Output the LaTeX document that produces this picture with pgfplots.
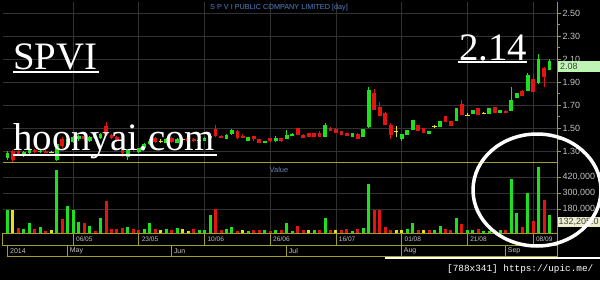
\documentclass[border=0pt]{standalone}
\usepackage{pgfplots}
\pgfplotsset{compat=1.18}
\usepackage{pgfplotstable}
\usepackage{fontspec}
\setmainfont{Liberation Sans}
\newfontfamily\serifw{Liberation Serif}
\newfontfamily\monow{Liberation Mono}

\definecolor{cg}{RGB}{30,225,30}
\definecolor{cr}{RGB}{228,20,20}
\definecolor{cy}{RGB}{225,225,20}
\definecolor{olv}{RGB}{160,160,40}
\definecolor{gridc}{RGB}{50,50,50}
\definecolor{tickc}{RGB}{195,195,195}
\definecolor{titc}{RGB}{80,130,200}
\definecolor{valc}{RGB}{110,130,170}
\definecolor{tagg}{RGB}{190,245,180}
\definecolor{tagy}{RGB}{238,238,205}

% candles: i open high low close
\pgfplotstableread{
i o h l c
0 1.24 1.30 1.22 1.28
3 1.26 1.30 1.25 1.29
4 1.28 1.32 1.27 1.31
6 1.29 1.31 1.28 1.30
9 1.22 1.38 1.21 1.36
11 1.35 1.42 1.34 1.40
12 1.38 1.43 1.37 1.42
13 1.40 1.44 1.39 1.43
15 1.39 1.43 1.38 1.42
17 1.41 1.46 1.40 1.45
22 1.25 1.32 1.22 1.31
24 1.29 1.33 1.28 1.33
25 1.33 1.37 1.32 1.36
26 1.36 1.40 1.35 1.39
29 1.37 1.41 1.37 1.40
31 1.37 1.41 1.37 1.40
36 1.39 1.42 1.39 1.41
37 1.41 1.44 1.40 1.43
40 1.40 1.45 1.40 1.44
41 1.45 1.49 1.44 1.48
44 1.39 1.42 1.39 1.42
47 1.37 1.39 1.37 1.39
49 1.39 1.43 1.38 1.41
51 1.40 1.48 1.40 1.44
52 1.43 1.46 1.43 1.45
58 1.42 1.54 1.42 1.53
63 1.42 1.46 1.42 1.46
65 1.42 1.49 1.42 1.49
66 1.51 1.86 1.50 1.83
72 1.40 1.45 1.39 1.45
73 1.44 1.48 1.44 1.48
74 1.48 1.57 1.48 1.57
77 1.45 1.47 1.45 1.47
79 1.51 1.56 1.51 1.56
82 1.56 1.67 1.56 1.67
85 1.62 1.66 1.62 1.66
88 1.62 1.67 1.62 1.67
90 1.63 1.66 1.63 1.66
92 1.65 1.86 1.65 1.74
93 1.76 1.80 1.76 1.80
95 1.82 1.98 1.82 1.96
97 1.89 2.14 1.88 2.10
99 2.00 2.10 2.00 2.08
}\gcand

\pgfplotstableread{
i o h l c
1 1.30 1.31 1.20 1.22
2 1.30 1.32 1.26 1.27
5 1.31 1.32 1.28 1.29
7 1.30 1.31 1.28 1.28
10 1.40 1.42 1.33 1.34
14 1.43 1.44 1.39 1.40
16 1.43 1.44 1.40 1.41
18 1.52 1.55 1.43 1.44
19 1.44 1.45 1.40 1.41
20 1.42 1.43 1.38 1.39
21 1.34 1.35 1.25 1.28
23 1.33 1.34 1.30 1.31
27 1.41 1.42 1.37 1.38
30 1.41 1.42 1.37 1.38
33 1.41 1.42 1.38 1.39
34 1.40 1.41 1.38 1.39
38 1.49 1.53 1.42 1.43
39 1.43 1.44 1.41 1.41
42 1.47 1.48 1.40 1.41
43 1.43 1.45 1.41 1.415
45 1.43 1.43 1.39 1.40
46 1.40 1.40 1.37 1.37
48 1.41 1.41 1.38 1.39
50 1.41 1.41 1.38 1.39
53 1.50 1.50 1.44 1.44
54 1.44 1.45 1.41 1.41
55 1.46 1.46 1.42 1.42
56 1.46 1.46 1.42 1.42
57 1.46 1.47 1.42 1.42
59 1.50 1.51 1.47 1.47
60 1.49 1.50 1.46 1.46
61 1.47 1.47 1.44 1.44
62 1.46 1.46 1.43 1.43
64 1.45 1.46 1.40 1.40
67 1.80 1.84 1.66 1.66
68 1.68 1.73 1.60 1.60
69 1.63 1.64 1.53 1.53
70 1.53 1.54 1.40 1.44
75 1.53 1.53 1.47 1.47
76 1.50 1.50 1.46 1.46
80 1.60 1.60 1.55 1.55
81 1.56 1.56 1.52 1.52
83 1.71 1.74 1.61 1.61
86 1.67 1.67 1.61 1.61
89 1.68 1.68 1.63 1.63
91 1.65 1.66 1.63 1.63
94 1.82 1.83 1.78 1.78
96 1.93 1.97 1.81 1.81
98 2.02 2.03 1.86 1.94
}\rcand

\pgfplotstableread{
i o h l c
8 1.29 1.30 1.28 1.29
28 1.38 1.40 1.37 1.38
32 1.40 1.41 1.39 1.40
35 1.39 1.41 1.38 1.39
71 1.47 1.52 1.42 1.47
78 1.51 1.53 1.50 1.51
84 1.61 1.63 1.60 1.61
87 1.63 1.64 1.62 1.63
}\ycand

% volume (thousands)
\pgfplotstableread{
i v
0 172.5
3 27.5
4 72.5
6 47.5
9 472.5
11 202.5
12 172.5
13 85
15 55
17 110
22 47.5
25 32.5
26 72.5
29 32.5
31 37.5
35 22.5
36 22.5
37 137.5
40 30
41 47.5
44 17.5
47 22.5
49 22.5
51 72.5
52 17.5
56 22.5
58 110
63 17.5
65 37.5
66 367.5
73 27.5
74 72.5
78 22.5
79 52.5
82 110
84 22.5
85 22.5
87 12.5
88 17.5
90 22.5
92 402.5
93 147.5
95 302.5
97 492.5
99 132.2
}\vgreen

\pgfplotstableread{
i v
2 35
5 27.5
7 17.5
10 105
14 72.5
16 17.5
18 240
19 30
20 30
21 35
23 30
24 22.5
27 32.5
30 22.5
34 27.5
38 177.5
39 22.5
42 17.5
45 22.5
46 22.5
48 17.5
50 22.5
53 52.5
54 22.5
57 22.5
59 22.5
61 22.5
62 27.5
64 27.5
67 172.5
68 172.5
69 47.5
70 22.5
75 22.5
77 22.5
80 32.5
81 22.5
83 67.5
86 27.5
89 22.5
91 22.5
94 42.5
96 90
98 247.5
}\vred

\pgfplotstableread{
i v
1 172.5
8 22.5
28 22.5
32 30
33 17.5
43 22.5
55 22.5
60 22.5
71 22.5
72 22.5
76 22.5
}\vyellow

\pgfplotsset{
  chartbase/.style={
    scale only axis,
    width=554.3bp,
    xmin=-0.877, xmax=100.37,
    axis line style={draw=none},
    xtick={12,24,36,48,60,72,84,96},
    xticklabels={},
    xtick style={draw=none},
    grid=major,
    major grid style={draw=gridc, line width=0.8bp},
    ytick pos=right,
    yticklabel pos=right,
    tick align=outside,
    ytick style={draw=olv, line width=0.8bp},
    major tick length=4bp,
    minor tick length=2.5bp,
    /pgf/number format/assume math mode=true,
    yticklabel style={font=\fontsize{9}{10}\selectfont, text=tickc, inner sep=1.5bp},
  },
  wick/.style={draw=none, forget plot, error bars/.cd, y dir=plus, y explicit, error mark=none,
    error bar style={draw=#1, line width=1bp}},
  body/.style={draw=none, forget plot, error bars/.cd, y dir=plus, y explicit, error mark=none,
    error bar style={draw=#1, line width=3.8bp}},
}

\begin{document}
\begin{tikzpicture}[x=1bp,y=1bp]
\path[use as bounding box] (0,0) rectangle (600,280);
\fill[black] (0,0) rectangle (600,280);
\begin{scope}
\clip (0,0) rectangle (600,280);

% price panel
\begin{axis}[chartbase, at={(2.7bp,118bp)}, anchor=south west, height=160bp,
  ymin=1.2043, ymax=2.5957,
  ytick={1.3,1.5,1.7,1.9,2.1,2.3,2.5},
  minor ytick={1.4,1.6,1.8,2.0,2.2,2.4},
  yticklabel style={/pgf/number format/.cd, fixed, fixed zerofill, precision=2}]
\addplot[wick=cg] table[x=i, y=l, y error plus expr={\thisrow{h}-\thisrow{l}}] {\gcand};
\addplot[body=cg] table[x=i, y=o, y error plus expr={\thisrow{c}-\thisrow{o}}] {\gcand};
\addplot[wick=cr] table[x=i, y=l, y error plus expr={\thisrow{h}-\thisrow{l}}] {\rcand};
\addplot[body=cr] table[x=i, y=c, y error plus expr={\thisrow{o}-\thisrow{c}}] {\rcand};
\addplot[wick=cy] table[x=i, y=l, y error plus expr={\thisrow{h}-\thisrow{l}}] {\ycand};
\addplot[only marks, mark=-, mark size=2.2bp, mark options={draw=cy, line width=1bp}] table[x=i, y=o] {\ycand};
\end{axis}

% volume panel
\begin{axis}[chartbase, at={(2.7bp,47bp)}, anchor=south west, height=71bp,
  ymin=0, ymax=532.5,
  ytick={180,300,420},
  yticklabels={{180,000},{300,000},{420,000}}]
\addplot[ycomb, draw=cg, line width=3bp] table[x=i, y=v] {\vgreen};
\addplot[ycomb, draw=cr, line width=3bp] table[x=i, y=v] {\vred};
\addplot[ycomb, draw=cy, line width=3bp] table[x=i, y=v] {\vyellow};
\end{axis}

% frame lines
\draw[olv, line width=1bp] (557,47) -- (557,278);
\draw[olv, line width=1bp] (2.7,118) -- (557,118);

% date row
\draw[olv, line width=0.9bp] (2.7,47) rectangle (557,35);
\foreach \x/\t in {73.2/06\slash 05,138.9/23\slash 05,204.6/10\slash 06,270.3/26\slash 06,336.0/16\slash 07,401.7/01\slash 08,467.4/21\slash 08,533.1/08\slash 09}{
  \draw[olv, line width=0.9bp] (\x,47) -- (\x,35);
  \node[anchor=west, inner sep=0, text=tickc, font=\fontsize{6.6}{7}\selectfont] at (\x+2.7,40.8) {\t};
}
% month row
\draw[olv, line width=0.9bp] (7.3,34.5) rectangle (557,23.5);
\node[anchor=west, inner sep=0, text=tickc, font=\fontsize{7}{8}\selectfont] at (10,29) {2014};
\foreach \x/\t in {67.7/May,171.8/Jun,286.7/Jul,401.7/Aug,505.7/Sep}{
  \draw[olv, line width=0.9bp] (\x,34.5) -- (\x,23.5);
  \node[anchor=west, inner sep=0, text=tickc, font=\fontsize{7}{8}\selectfont] at (\x+2,29) {\t};
}

% titles
\node[text=titc, font=\fontsize{7.3}{8}\selectfont, inner sep=0] at (279,272.5) {S P V I PUBLIC COMPANY LIMITED [day]};
\node[text=valc, font=\fontsize{7.5}{8}\selectfont, inner sep=0] at (279,110.5) {Value};

% tags
\fill[tagg] (557.5,208) rectangle (600,219);
\node[anchor=west, inner sep=0, text=black!75, font=\fontsize{9}{10}\selectfont] at (560,213.5) {2.08};
\fill[tagy] (557.5,53) rectangle (600,63.5);
\node[anchor=west, inner sep=0, text=black!75, font=\fontsize{9}{10}\selectfont] at (558.5,58.2) {132,205.0};

% overlay texts
\node[anchor=base west, inner sep=0, text=white, font=\serifw\fontsize{39}{40}\selectfont] at (13,210.5) {SPVI};
\draw[white, line width=1.6bp] (13,207.8) -- (99,207.8);
\node[anchor=base west, inner sep=0, text=white, font=\serifw\fontsize{39}{40}\selectfont] at (459,220) {2.14};
\draw[white, line width=1.6bp] (458,217.8) -- (527,217.8);
\node[anchor=base west, inner sep=0, text=white, font=\serifw\fontsize{39}{40}\selectfont] at (13,130) {hoonyai.com};
\draw[white, line width=1.6bp] (13,125) -- (217,125);

% circle
\draw[white, line width=3.5bp] (537,90) ellipse [x radius=64, y radius=56];

% footer
\fill[white] (385,21) rectangle (600,23.2);
\node[anchor=base west, inner sep=0, text=white, font=\monow\fontsize{9.4}{10}\selectfont] at (447,9) {[788x341] https://upic.me/};
\end{scope}
\end{tikzpicture}
\end{document}
